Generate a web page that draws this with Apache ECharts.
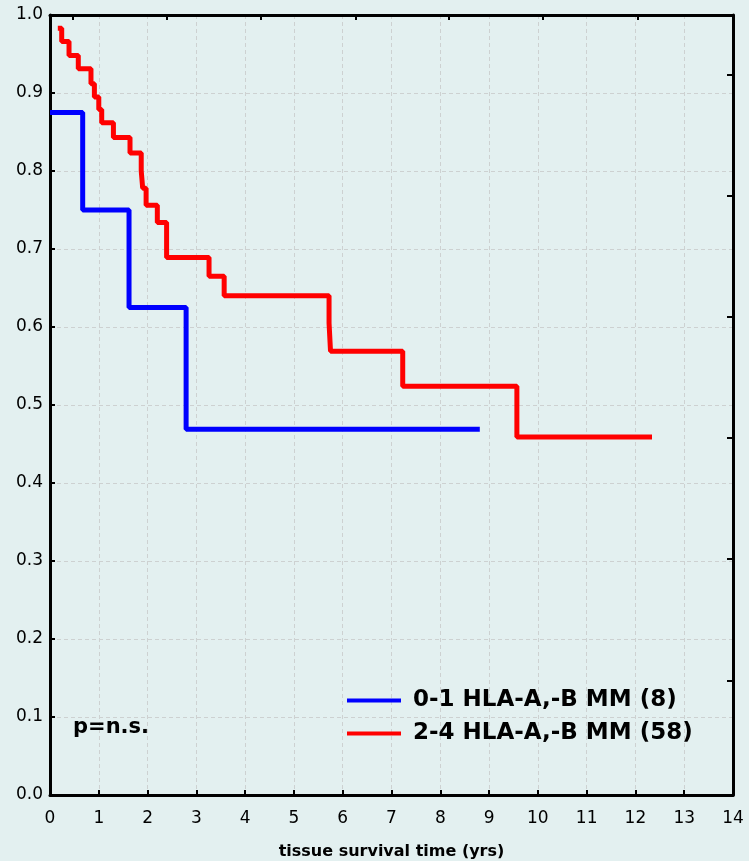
<!DOCTYPE html>
<html>
<head>
<meta charset="utf-8">
<script src="https://cdn.jsdelivr.net/npm/echarts@6/dist/echarts.min.js"></script>
<style>
    html, body { margin: 0; padding: 0; background: #e3f0f0; }
    #chart { width: 749px; height: 861px; }
</style>
</head>
<body>
<div id="chart"></div>
<script>
const seriesNames = ['0-1 HLA-A,-B MM (8)', '2-4 HLA-A,-B MM (58)'];

// Kaplan-Meier steps: survival value reached at each time (yrs)
const blueTimes = [0, 0.67, 1.62, 2.79, 8.81];
const blueSurv = [0.875, 0.75, 0.625, 0.469, 0.469];

const redTimes = [0.16, 0.24, 0.39, 0.58, 0.84, 0.91, 1.00, 1.06, 1.30, 1.64, 1.87,
    1.90, 1.97, 2.20, 2.39, 3.26, 3.57, 5.72, 5.75, 7.23, 9.57, 12.34];
const redSurv = [0.983, 0.966, 0.948, 0.931, 0.912, 0.895, 0.879, 0.862, 0.843, 0.823, 0.800,
    0.778, 0.756, 0.734, 0.689, 0.665, 0.640, 0.605, 0.569, 0.524, 0.459, 0.459];

// tick marks on the mirrored top / right axes (no labels)
const topTicks = [0.47, 2.40, 4.33, 6.26, 8.18, 10.11, 12.04];
const rightTicks = [0.147, 0.303, 0.458, 0.613, 0.768, 0.923];

const font = 'DejaVu Sans';
const zip = (xs, ys) => xs.map((x, i) => [x, ys[i]]);

const frameLine = { show: true, onZero: false, lineStyle: { color: '#000', width: 3 } };
const gridLine = { show: true, lineStyle: { color: '#cdd1d1', width: 1, type: [4, 3] } };

const option = {
    animation: false,
    backgroundColor: '#e3f0f0',
    grid: { left: 50, right: 16, top: 15, bottom: 66, outerBoundsMode: 'none', containLabel: false },
    title: {
        text: 'p=n.s.',
        left: 73,
        top: 717,
        padding: 0,
        textStyle: { fontFamily: font, fontSize: 21, fontWeight: 'bold', color: '#000' }
    },
    legend: {
        orient: 'vertical',
        left: 347,
        top: 687,
        padding: 0,
        itemWidth: 54,
        itemHeight: 4,
        itemGap: 6,
        icon: 'rect',
        data: seriesNames,
        textStyle: {
            fontFamily: font, fontSize: 23, fontWeight: 'bold', color: '#000',
            lineHeight: 27, padding: [0, 0, 0, 7]
        }
    },
    xAxis: [
        {
            type: 'value',
            position: 'bottom',
            min: 0,
            max: 14,
            interval: 1,
            axisLine: frameLine,
            axisTick: { show: true, inside: true, length: 5, lineStyle: { color: '#000', width: 2 } },
            axisLabel: { fontFamily: font, fontSize: 17, color: '#000', margin: 15 },
            splitLine: gridLine,
            name: 'tissue survival time (yrs)',
            nameLocation: 'middle',
            nameGap: 49,
            nameTextStyle: { fontFamily: font, fontSize: 16, fontWeight: 'bold', color: '#000' }
        },
        {
            type: 'value',
            position: 'top',
            min: 0,
            max: 14,
            axisLine: frameLine,
            axisTick: {
                show: true, inside: true, length: 5, customValues: topTicks,
                lineStyle: { color: '#000', width: 2 }
            },
            axisLabel: { show: false },
            splitLine: { show: false }
        }
    ],
    yAxis: [
        {
            type: 'value',
            position: 'left',
            min: 0,
            max: 1,
            interval: 0.1,
            axisLine: frameLine,
            axisTick: { show: true, inside: true, length: 5, lineStyle: { color: '#000', width: 2 } },
            axisLabel: {
                fontFamily: font, fontSize: 17, color: '#000', margin: 7,
                formatter: v => v.toFixed(1)
            },
            splitLine: gridLine
        },
        {
            type: 'value',
            position: 'right',
            min: 0,
            max: 1,
            axisLine: frameLine,
            axisTick: {
                show: true, inside: true, length: 6, customValues: rightTicks,
                lineStyle: { color: '#000', width: 2 }
            },
            axisLabel: { show: false },
            splitLine: { show: false }
        }
    ],
    series: [
        {
            name: seriesNames[0],
            type: 'line',
            step: 'end',
            showSymbol: false,
            color: '#0000ff',
            lineStyle: { color: '#0000ff', width: 5 },
            data: zip(blueTimes, blueSurv),
            z: 3
        },
        {
            name: seriesNames[1],
            type: 'line',
            step: 'end',
            showSymbol: false,
            color: '#ff0000',
            lineStyle: { color: '#ff0000', width: 5 },
            data: zip(redTimes, redSurv),
            z: 4
        }
    ]
};

const chart = echarts.init(document.getElementById('chart'));
chart.setOption(option);
</script>
</body>
</html>
